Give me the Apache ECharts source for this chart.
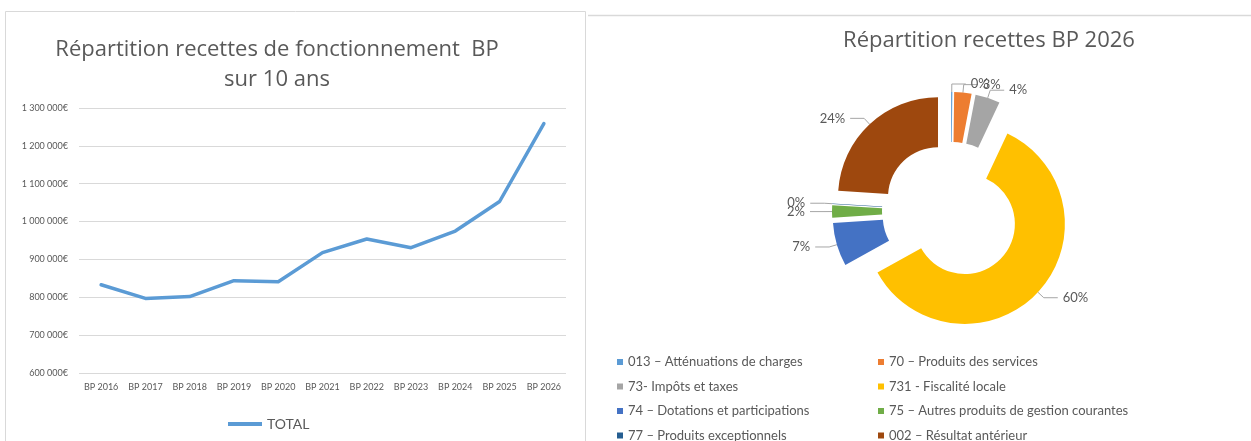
<!DOCTYPE html>
<html>
<head>
<meta charset="utf-8">
<script src="https://cdn.jsdelivr.net/npm/echarts@6/dist/echarts.min.js"></script>
<style>
  html, body { margin: 0; padding: 0; background: #fff; }
  #main { width: 1251px; height: 441px; }
</style>
</head>
<body>
<div id="main"></div>
<script>
// données du graphique
const years = ['BP 2016', 'BP 2017', 'BP 2018', 'BP 2019', 'BP 2020', 'BP 2021',
  'BP 2022', 'BP 2023', 'BP 2024', 'BP 2025', 'BP 2026']
const totals = [833000, 797000, 802000, 844000, 841000, 918000,
  954000, 931000, 975000, 1053000, 1259000]

const chapitres = [
  '013 – Atténuations de charges',
  '70 – Produits des services',
  '73- Impôts et taxes',
  '731 - Fiscalité locale',
  '74 – Dotations et participations',
  '75 – Autres produits de gestion courantes',
  '77 – Produits exceptionnels',
  '002 – Résultat antérieur'
]
const parts = [0.2, 2.8, 4, 60, 7, 2, 0.1, 24]
const couleurs = ['#5B9BD5', '#ED7D31', '#A5A5A5', '#FFC000', '#4472C4', '#70AD47', '#255E91', '#9E480E']

const FONT = 'Lato'
const TITLE_FONT = 'Open Sans'
const GREY = '#595959'

const fmtEuro = (v) => String(v).replace(/\B(?=(\d{3})+(?!\d))/g, ' ') + '€'

const chart = echarts.init(document.getElementById('main'))

const legendCol = (items, left) => ({
  data: items,
  orient: 'vertical', left, top: 349, height: 120,
  icon: 'rect', itemWidth: 6, itemHeight: 6, itemGap: 8.5,
  textStyle: { fontFamily: FONT, fontSize: 13, color: GREY, lineHeight: 16 }
})

const option = {
  backgroundColor: '#fff',
  animation: false,
  textStyle: { fontFamily: FONT },
  graphic: [
    // cadre du graphique de gauche
    {
      type: 'rect', silent: true,
      shape: { x: 5.5, y: 11.5, width: 580, height: 440 },
      style: { fill: 'none', stroke: '#d9d9d9', lineWidth: 1 }
    },
    {
      type: 'line', silent: true,
      shape: { x1: 588, y1: 15.5, x2: 1251, y2: 15.5 },
      style: { stroke: '#d9d9d9', lineWidth: 1.5 }
    }
  ],
  title: [
    {
      text: 'Répartition recettes de fonctionnement  BP\nsur 10 ans',
      left: 272, top: 30, textAlign: 'center',
      textStyle: { fontFamily: TITLE_FONT, fontSize: 22, fontWeight: 'normal', color: GREY, lineHeight: 30 }
    },
    {
      text: 'Répartition recettes BP 2026',
      left: 984, top: 25, textAlign: 'center',
      textStyle: { fontFamily: TITLE_FONT, fontSize: 22, fontWeight: 'normal', color: GREY }
    }
  ],
  legend: [
    {
      data: [{ name: 'TOTAL', icon: 'rect' }],
      left: 223, top: 412,
      itemWidth: 34, itemHeight: 4, itemGap: 2,
      textStyle: { fontFamily: FONT, fontSize: 14, color: GREY }
    },
    legendCol([chapitres[0], chapitres[2], chapitres[4], chapitres[6]], 612),
    legendCol([chapitres[1], chapitres[3], chapitres[5], chapitres[7]], 873)
  ],
  grid: { left: 79, right: 685, top: 108, bottom: 68, containLabel: false },
  xAxis: {
    type: 'category',
    data: years,
    axisLine: { show: false },
    axisTick: { show: false },
    axisLabel: { fontFamily: FONT, fontSize: 9, color: GREY, margin: 10, interval: 0 }
  },
  yAxis: {
    type: 'value',
    min: 600000, max: 1300000, interval: 100000,
    axisLine: { show: false },
    axisTick: { show: false },
    splitLine: { lineStyle: { color: '#d9d9d9', width: 1 } },
    axisLabel: { fontFamily: FONT, fontSize: 9, color: GREY, margin: 11, formatter: fmtEuro }
  },
  series: [
    {
      name: 'TOTAL',
      type: 'line',
      data: totals,
      symbol: 'none',
      color: '#5B9BD5',
      lineStyle: { width: 3.5, color: '#5B9BD5', cap: 'round', join: 'round' }
    },
    {
      name: 'Répartition',
      type: 'pie',
      center: [951, 211],
      radius: [50, 100],
      startAngle: 90,
      clockwise: true,
      selectedMode: 'multiple',
      selectedOffset: 19,
      avoidLabelOverlap: false,
      labelLayout: { hideOverlap: false },
      color: couleurs,
      emphasis: { disabled: true },
      label: {
        show: true,
        position: 'outside',
        fontFamily: FONT,
        fontSize: 13,
        color: GREY,
        formatter: (p) => Math.round(p.percent) + '%'
      },
      labelLine: {
        show: true, length: 8, length2: 14,
        lineStyle: { color: '#a6a6a6', width: 1 }
      },
      data: chapitres.map((name, i) => ({ name, value: parts[i], selected: true }))
    }
  ]
}

chart.setOption(option)
</script>
</body>
</html>
